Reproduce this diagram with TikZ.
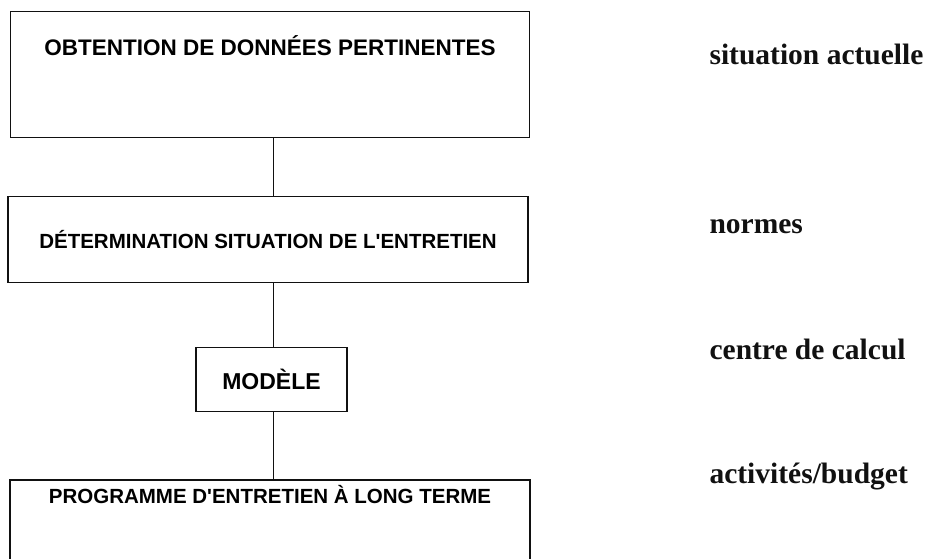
\documentclass[tikz,border=0pt]{standalone}
\usepackage{fontspec}
\newfontfamily\boxfont{Liberation Sans}
\newfontfamily\sidefont{Liberation Serif}
\usetikzlibrary{positioning}
\definecolor{cink}{HTML}{111111}
\tikzset{
  every picture/.style={line width=1.1pt, draw=cink},
  box/.style={draw=cink, rectangle, inner xsep=0pt, inner ysep=0pt, align=center,
    font=\boxfont\bfseries\fontsize{20.5}{24}\selectfont},
  link/.style={draw=cink, line width=1pt},
  side/.style={anchor=base west, inner sep=0pt, text=cink,
    font=\sidefont\bfseries\fontsize{29.5}{34}\selectfont},
}

\begin{document}
\begin{tikzpicture}[x=1pt, y=-1pt]
  \useasboundingbox (0,0) rectangle (927,558);
  \clip (0,0) rectangle (927,558);
  % flow boxes
  \node[box, minimum width=519pt, text height=44pt, text depth=82pt, anchor=north,
    font=\boxfont\bfseries\fontsize{22.5}{26}\selectfont] (donnees) at (270,11) {OBTENTION DE DONNÉES PERTINENTES};
  \node[box, minimum width=520pt, minimum height=86pt, anchor=north] (situation) at (268,196) {DÉTERMINATION SITUATION DE L'ENTRETIEN};
  \node[box, minimum width=151pt, minimum height=64pt, anchor=north,
    font=\boxfont\bfseries\fontsize{23}{26}\selectfont] (modele) at (271.5,347) {MODÈLE};
  \node[box, line width=2pt, minimum width=520pt, text height=23pt, text depth=100pt, anchor=north] (programme) at (270,479) {PROGRAMME D'ENTRETIEN À LONG TERME};
  % connectors (one vertical spine)
  \coordinate (spine) at (273,0);
  \draw[link] (spine |- donnees.south) -- (spine |- situation.north);
  \draw[link] (spine |- situation.south) -- (spine |- modele.north);
  \draw[link] (spine |- modele.south) -- (spine |- programme.north);
  % right-hand notes
  \node[side] (actuelle) at (709,64) {situation actuelle};
  \node[side] (normes) at (709,233) {normes};
  \node[side] (calcul) at (709,359) {centre de calcul};
  \node[side] (budget) at (709,483) {activités/budget};
\end{tikzpicture}
\end{document}
